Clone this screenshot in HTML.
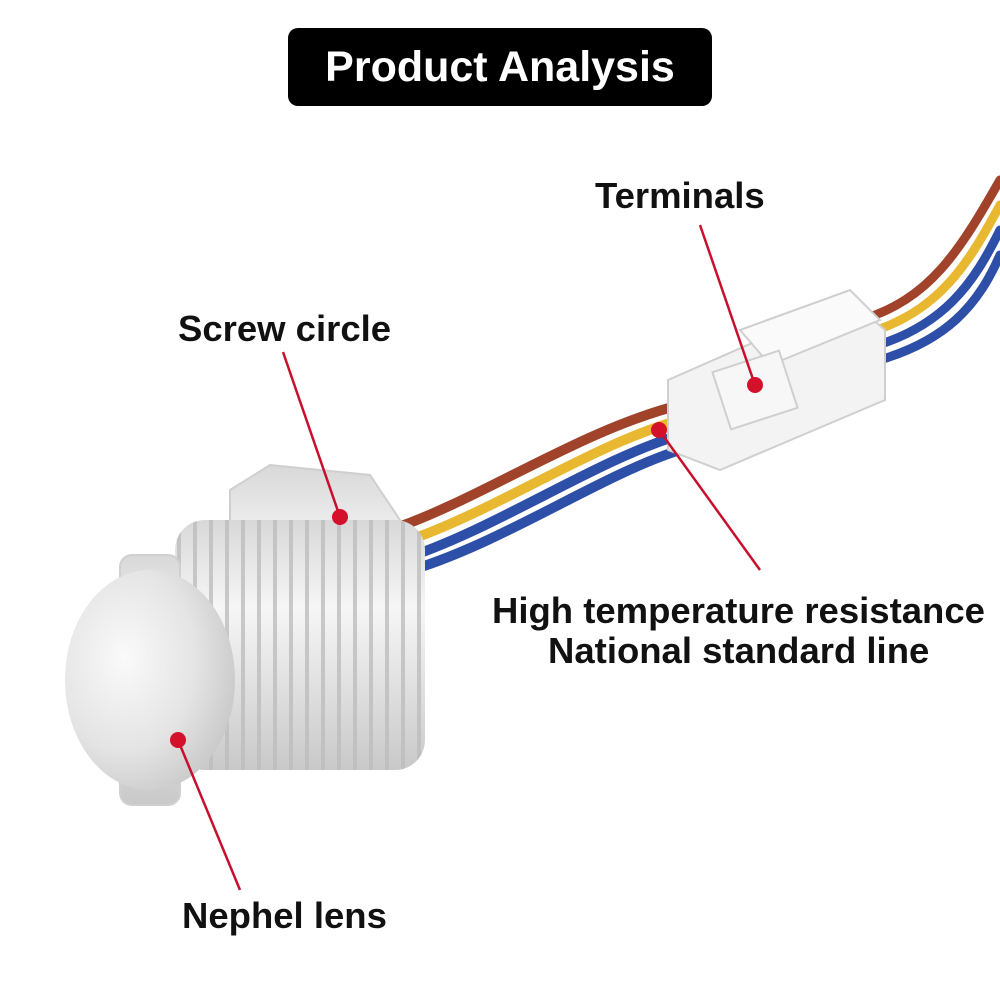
<!DOCTYPE html>
<html><head><meta charset="utf-8"><style>
html,body{margin:0;padding:0;background:#fff;}
svg{display:block}
text{font-family:"Liberation Sans",Arial,sans-serif;font-weight:bold;}
</style></head><body>
<svg width="1000" height="1000" viewBox="0 0 1000 1000" xmlns="http://www.w3.org/2000/svg">
<defs>
<linearGradient id="cyl" x1="0" y1="0" x2="0" y2="1">
<stop offset="0" stop-color="#d8d8d8"/><stop offset="0.35" stop-color="#f6f6f6"/><stop offset="1" stop-color="#c9c9c9"/>
</linearGradient>
<radialGradient id="dome" cx="0.35" cy="0.4" r="0.7">
<stop offset="0" stop-color="#fafafa"/><stop offset="0.6" stop-color="#e4e4e4"/><stop offset="1" stop-color="#c8c8c8"/>
</radialGradient>
<pattern id="thr" width="16" height="10" patternUnits="userSpaceOnUse">
<rect width="16" height="10" fill="none"/><line x1="3" y1="0" x2="3" y2="10" stroke="#bdbdbd" stroke-width="4"/>
</pattern>
</defs>
<rect width="1000" height="1000" fill="#fff"/>
<rect x="288" y="28" width="424" height="78" rx="10" fill="#000"/>
<text x="500" y="81" font-size="43" fill="#fff" text-anchor="middle">Product Analysis</text>

<g fill="none" stroke-width="9" stroke-linecap="round">
<path d="M860 320 C930 300 960 250 1000 180" stroke="#a0432a"/>
<path d="M860 335 C940 315 970 260 1000 205" stroke="#e8b830"/>
<path d="M860 350 C945 330 975 280 1000 230" stroke="#2e4fa8"/>
<path d="M860 365 C950 345 980 300 1000 255" stroke="#2e4fa8"/>
</g>
<g fill="none" stroke-width="10" stroke-linecap="round">
<path d="M390 530 C480 500 580 430 680 405" stroke="#a0432a"/>
<path d="M395 545 C490 515 590 445 680 420" stroke="#e8b830"/>
<path d="M400 560 C495 530 595 460 680 435" stroke="#2e4fa8"/>
<path d="M405 572 C500 545 600 475 680 450" stroke="#2e4fa8"/>
</g>
<g stroke="#cfcfcf" stroke-width="2">
<polygon points="668,380 850,300 885,330 885,400 720,470 668,450" fill="#f3f3f3"/>
<polygon points="740,330 850,290 880,320 770,365" fill="#fafafa"/>
<rect x="720" y="360" width="70" height="60" fill="#f7f7f7" transform="rotate(-18 755 390)"/>
</g>

<polygon points="230,490 270,465 370,475 400,520 400,690 360,715 260,705 230,680" fill="url(#cyl)" stroke="#cfcfcf" stroke-width="2"/>
<rect x="175" y="520" width="250" height="250" rx="30" fill="url(#cyl)"/>
<rect x="175" y="520" width="250" height="250" rx="30" fill="url(#thr)" opacity="0.8"/>
<rect x="120" y="555" width="60" height="250" rx="12" fill="url(#cyl)" stroke="#d0d0d0" stroke-width="2"/>
<ellipse cx="150" cy="680" rx="85" ry="110" fill="url(#dome)"/>

<g stroke="#c8102e" stroke-width="2.5">
<line x1="755" y1="385" x2="700" y2="225"/>
<line x1="659" y1="430" x2="760" y2="570"/>
<line x1="340" y1="517" x2="283" y2="352"/>
<line x1="178" y1="740" x2="240" y2="890"/>
</g>
<g fill="#d4102a">
<circle cx="755" cy="385" r="8"/><circle cx="659" cy="430" r="8"/>
<circle cx="340" cy="517" r="8"/><circle cx="178" cy="740" r="8"/>
</g>

<g fill="#111" font-size="36.5">
<text x="595" y="208">Terminals</text>
<text x="178" y="341">Screw circle</text>
<text x="492" y="623">High temperature resistance</text>
<text x="548" y="663">National standard line</text>
<text x="182" y="928">Nephel lens</text>
</g>
</svg>
</body></html>
